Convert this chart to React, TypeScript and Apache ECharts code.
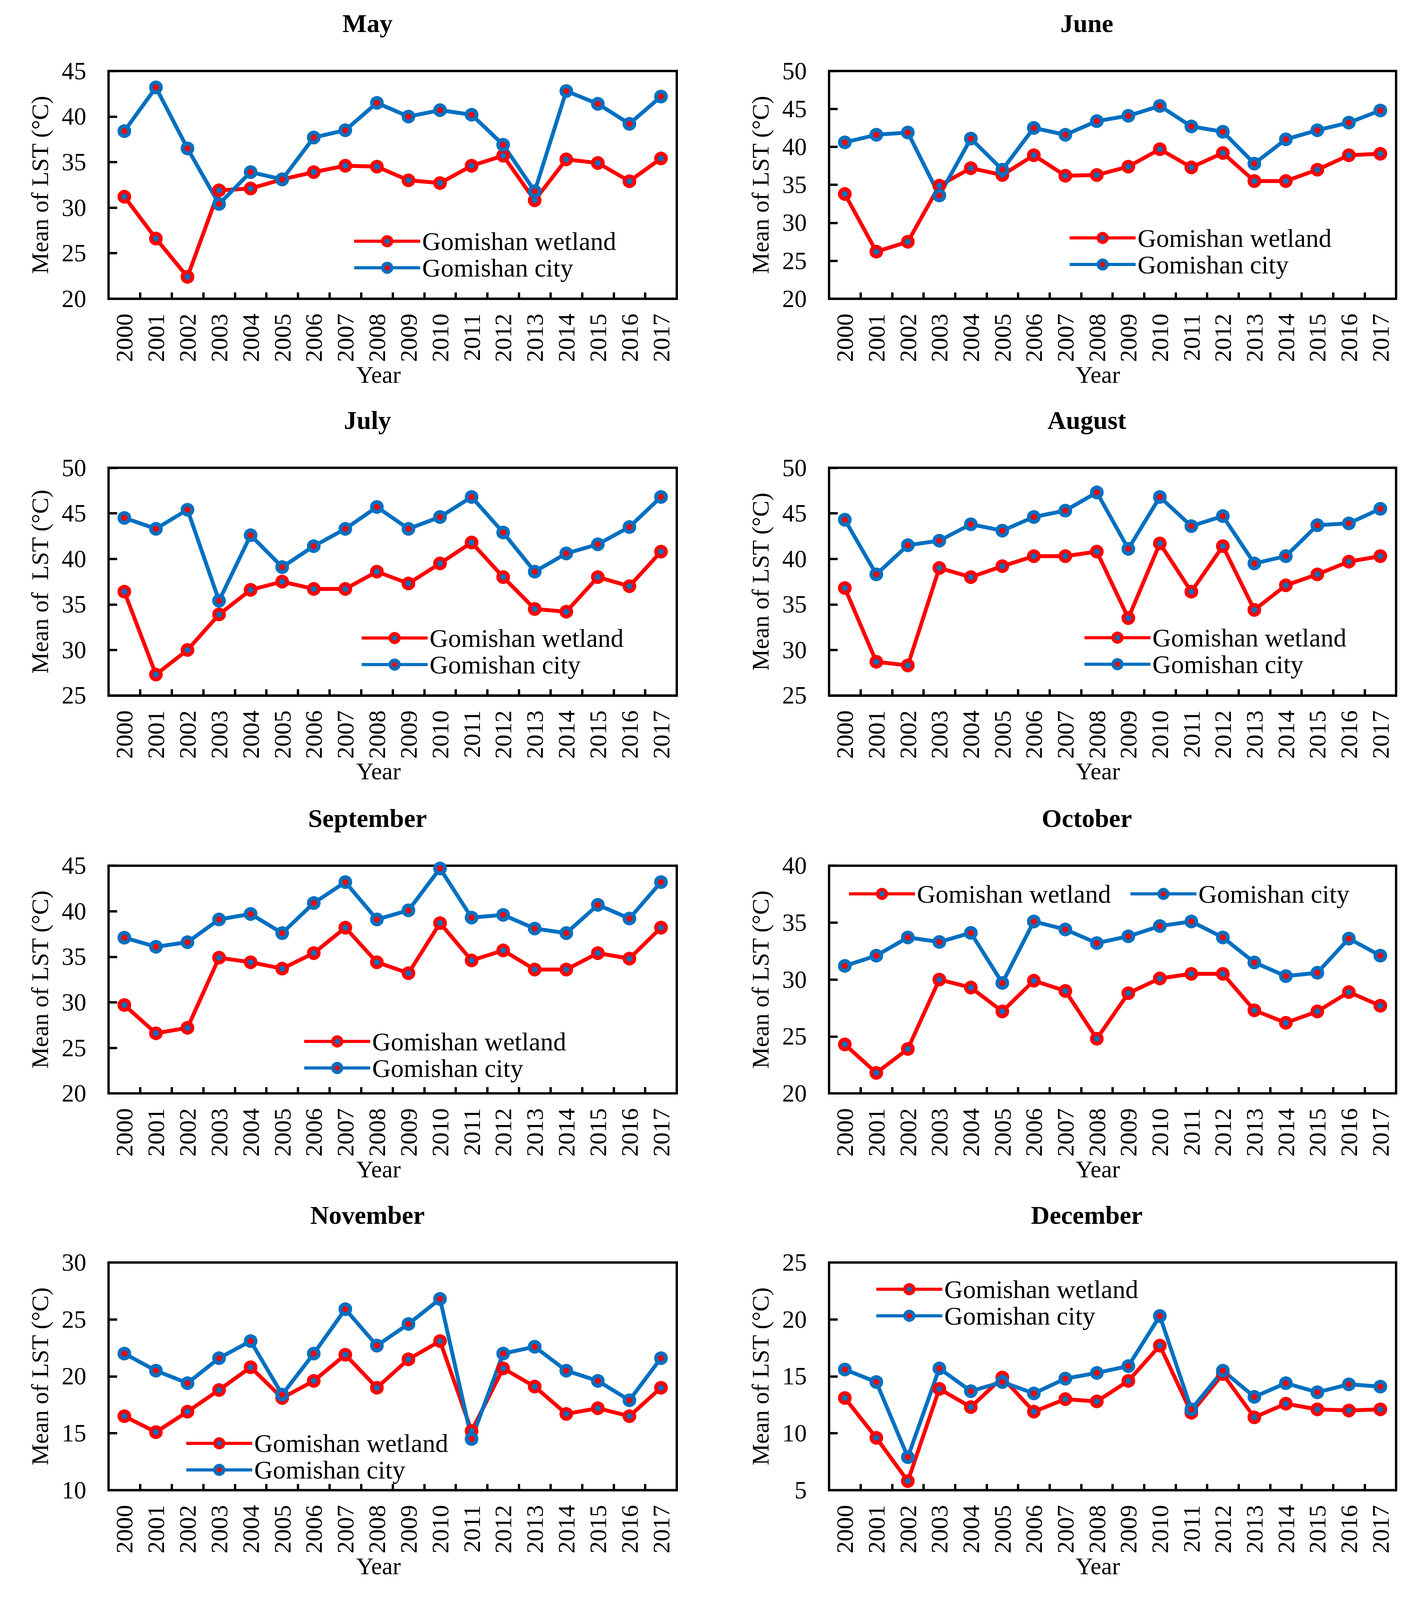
import React, { useEffect, useRef } from 'react';
import * as echarts from 'echarts';

const years = ['2000', '2001', '2002', '2003', '2004', '2005', '2006', '2007', '2008', '2009', '2010', '2011', '2012', '2013', '2014', '2015', '2016', '2017'];

const seriesNames = ['Gomishan wetland', 'Gomishan city'];

const mayWetland = [31.2, 26.6, 22.4, 31.9, 32.1, 33.1, 33.9, 34.6, 34.5, 33.0, 32.7, 34.6, 35.7, 30.8, 35.3, 34.9, 32.9, 35.4];
const mayCity = [38.4, 43.2, 36.5, 30.4, 33.9, 33.1, 37.7, 38.5, 41.5, 40.0, 40.7, 40.2, 36.9, 31.8, 42.8, 41.4, 39.2, 42.2];

const juneWetland = [33.8, 26.2, 27.5, 34.9, 37.2, 36.3, 38.9, 36.2, 36.3, 37.4, 39.7, 37.3, 39.2, 35.5, 35.5, 37.0, 38.9, 39.1];
const juneCity = [40.6, 41.6, 41.9, 33.6, 41.1, 37.0, 42.5, 41.6, 43.4, 44.1, 45.4, 42.7, 42.0, 37.8, 41.0, 42.2, 43.2, 44.8];

const julyWetland = [36.4, 27.3, 30.0, 33.9, 36.6, 37.5, 36.7, 36.7, 38.6, 37.3, 39.5, 41.8, 38.0, 34.5, 34.2, 38.0, 37.0, 40.8];
const julyCity = [44.5, 43.3, 45.4, 35.4, 42.6, 39.1, 41.4, 43.3, 45.7, 43.3, 44.6, 46.8, 42.9, 38.6, 40.6, 41.6, 43.5, 46.8];

const augustWetland = [36.8, 28.7, 28.3, 39.0, 38.0, 39.2, 40.3, 40.3, 40.8, 33.5, 41.7, 36.4, 41.4, 34.4, 37.1, 38.3, 39.7, 40.3];
const augustCity = [44.3, 38.3, 41.5, 42.0, 43.8, 43.1, 44.6, 45.3, 47.3, 41.1, 46.8, 43.6, 44.7, 39.5, 40.3, 43.7, 43.9, 45.5];

const septemberWetland = [29.7, 26.6, 27.2, 34.9, 34.4, 33.7, 35.4, 38.2, 34.4, 33.2, 38.7, 34.6, 35.7, 33.6, 33.6, 35.4, 34.8, 38.2];
const septemberCity = [37.1, 36.1, 36.6, 39.1, 39.7, 37.6, 40.9, 43.2, 39.1, 40.1, 44.7, 39.3, 39.6, 38.1, 37.6, 40.7, 39.2, 43.2];

const octoberWetland = [24.3, 21.8, 23.9, 30.0, 29.3, 27.2, 29.9, 29.0, 24.8, 28.8, 30.1, 30.5, 30.5, 27.3, 26.2, 27.2, 28.9, 27.7];
const octoberCity = [31.2, 32.1, 33.7, 33.3, 34.1, 29.7, 35.1, 34.4, 33.2, 33.8, 34.7, 35.1, 33.7, 31.5, 30.3, 30.6, 33.6, 32.1];

const novemberWetland = [16.5, 15.1, 16.9, 18.8, 20.8, 18.1, 19.6, 21.9, 19.0, 21.5, 23.1, 15.2, 20.7, 19.1, 16.7, 17.2, 16.5, 19.0];
const novemberCity = [22.0, 20.5, 19.4, 21.6, 23.1, 18.4, 22.0, 25.9, 22.7, 24.6, 26.8, 14.5, 22.0, 22.6, 20.5, 19.6, 17.9, 21.6];

const decemberWetland = [13.1, 9.6, 5.8, 13.9, 12.3, 14.9, 11.9, 13.0, 12.8, 14.6, 17.7, 11.8, 15.2, 11.4, 12.6, 12.1, 12.0, 12.1];
const decemberCity = [15.6, 14.5, 7.9, 15.7, 13.7, 14.5, 13.5, 14.8, 15.3, 15.9, 20.3, 12.1, 15.5, 13.2, 14.4, 13.6, 14.3, 14.1];

const panelTitles = ['May', 'June', 'July', 'August', 'September', 'October', 'November', 'December'];
const wetlandData = [mayWetland, juneWetland, julyWetland, augustWetland, septemberWetland, octoberWetland, novemberWetland, decemberWetland];
const cityData = [mayCity, juneCity, julyCity, augustCity, septemberCity, octoberCity, novemberCity, decemberCity];
const yMins = [20, 20, 25, 25, 20, 20, 10, 5];
const yMaxs = [45, 50, 50, 50, 45, 40, 30, 25];
const yStep = 5;
const yNames = ['Mean of LST (°C)', 'Mean of LST (°C)', 'Mean of  LST (°C)', 'Mean of LST (°C)', 'Mean of LST (°C)', 'Mean of LST (°C)', 'Mean of LST (°C)', 'Mean of LST (°C)'];
const xName = 'Year';

// layout (pixels). The viewport photographed is 4096 tall, so vertical positions are scaled by K.
const PAGE_W = 3649;
const PAGE_H = 4096;
const K = PAGE_H / 4371;
const RED = '#FF0000';
const BLUE = '#0070C0';
const FONT = '"Liberation Serif", "Times New Roman", Times, serif';
const colLeft = [278, 2123];
const colWidth = [1455, 1452];
const rowTop = [194, 1278, 2365, 3449];
const plotHeight = 622;
const titleX = [941, 2783];
const yearX = [969, 2811];
const legendLayout = [
  { left: 903, rowY: 659, orient: 'vertical' },
  { left: 2735, rowY: 650, orient: 'vertical' },
  { left: 922, rowY: 1743, orient: 'vertical' },
  { left: 2773, rowY: 1742, orient: 'vertical' },
  { left: 775, rowY: 2845, orient: 'vertical' },
  { left: 2170, rowY: 2442, orient: 'horizontal' },
  { left: 473, rowY: 3943, orient: 'vertical' },
  { left: 2240, rowY: 3522, orient: 'vertical' },
];

export default function App() {
  const ref = useRef<HTMLDivElement>(null);
  useEffect(() => {
    document.body.style.margin = '0';
    const chart = echarts.init(ref.current as HTMLDivElement, null, { renderer: 'svg' });
    const grids: any[] = [];
    const xAxes: any[] = [];
    const yAxes: any[] = [];
    const series: any[] = [];
    const legends: any[] = [];
    const graphics: any[] = [];
    const axisLineStyle = { color: '#000', width: 6 };
    const ph = plotHeight * K;

    panelTitles.forEach((title, i) => {
      const col = i % 2;
      const row = Math.floor(i / 2);
      const left = colLeft[col];
      const top = rowTop[row] * K;
      const width = colWidth[col];
      grids.push({ left, top, width, height: ph, show: true, borderColor: '#000', borderWidth: 6, backgroundColor: 'transparent', containLabel: false, outerBoundsMode: 'none' });
      xAxes.push({
        type: 'category', gridIndex: i, data: years, boundaryGap: true,
        axisLine: { show: true, lineStyle: axisLineStyle },
        axisTick: { show: true, inside: true, length: 16, interval: 0, lineStyle: axisLineStyle },
        axisLabel: { rotate: 90, interval: 0, margin: 38, fontSize: 62, fontFamily: FONT, color: '#000', hideOverlap: false },
        splitLine: { show: false },
      });
      yAxes.push({
        type: 'value', gridIndex: i, min: yMins[i], max: yMaxs[i], interval: yStep,
        axisLine: { show: true, lineStyle: axisLineStyle },
        axisTick: { show: true, inside: true, length: 22, lineStyle: axisLineStyle },
        axisLabel: { margin: 57, fontSize: 63, fontFamily: FONT, color: '#000' },
        splitLine: { show: false },
      });
      series.push({
        name: seriesNames[0], type: 'line', xAxisIndex: i, yAxisIndex: i, data: wetlandData[i],
        symbol: 'circle', symbolSize: 25, showAllSymbol: true,
        lineStyle: { color: RED, width: 10 },
        itemStyle: { color: BLUE, borderColor: RED, borderWidth: 10 },
        emphasis: { disabled: true },
      });
      series.push({
        name: seriesNames[1], type: 'line', xAxisIndex: i, yAxisIndex: i, data: cityData[i],
        symbol: 'circle', symbolSize: 25, showAllSymbol: true,
        lineStyle: { color: BLUE, width: 10 },
        itemStyle: { color: RED, borderColor: BLUE, borderWidth: 10 },
        emphasis: { disabled: true },
      });
      const lg = legendLayout[i];
      legends.push({
        data: seriesNames, orient: lg.orient, left: lg.left, top: lg.rowY * K - 33,
        padding: 0, itemGap: lg.orient === 'horizontal' ? 46 : 2,
        itemWidth: 169, itemHeight: 27.5, selectedMode: false,
        itemStyle: { borderWidth: 9 }, lineStyle: { width: 8 },
        textStyle: { fontSize: 66, fontFamily: FONT, color: '#000' },
      });
      graphics.push({
        type: 'text', x: titleX[col], y: top - 130 * K,
        style: { text: title, fontSize: 66, fontWeight: 'bold', fontFamily: FONT, fill: '#000', align: 'center', verticalAlign: 'middle' },
      });
      graphics.push({
        type: 'text', x: yearX[col], y: top + ph + 207 * K,
        style: { text: xName, fontSize: 62, fontFamily: FONT, fill: '#000', align: 'center', verticalAlign: 'middle' },
      });
      graphics.push({
        type: 'text', x: left - 176, y: top + ph / 2, rotation: Math.PI / 2,
        style: { text: yNames[i], fontSize: 62, fontFamily: FONT, fill: '#000', align: 'center', verticalAlign: 'middle' },
      });
    });

    chart.setOption({
      animation: false,
      backgroundColor: '#fff',
      grid: grids,
      xAxis: xAxes,
      yAxis: yAxes,
      series,
      legend: legends,
      graphic: graphics,
    });
    return () => chart.dispose();
  }, []);
  return <div ref={ref} style={{ width: PAGE_W, height: PAGE_H, background: '#fff' }} />;
}
